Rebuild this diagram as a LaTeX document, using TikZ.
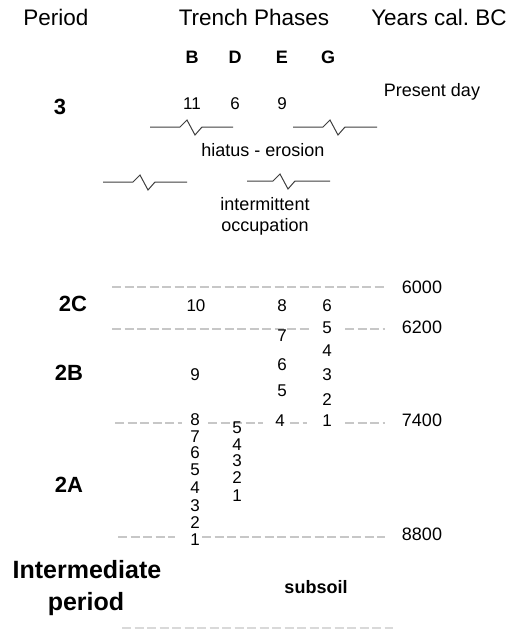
\documentclass[tikz,border=0pt]{standalone}
\usepackage{fontspec}
\setmainfont{Liberation Sans}
\frenchspacing
\begin{document}
\begin{tikzpicture}[x=1pt,y=-1pt,
  lbl/.style={inner sep=0pt, text height=0.72em, text depth=0pt, font=\fontsize{18}{18}\selectfont},
  hdr/.style={lbl, font=\fontsize{22.5}{22.5}\selectfont},
  per/.style={lbl, font=\fontsize{22}{22}\selectfont\bfseries},
  bigper/.style={lbl, font=\fontsize{25}{25}\selectfont\bfseries},
  trench/.style={lbl, font=\fontsize{18}{18}\selectfont\bfseries},
  num/.style={lbl, font=\fontsize{17}{17}\selectfont},
  gridline/.style={draw=black!22, line width=2.7pt, dash pattern=on 9pt off 3.5pt},
  baseline/.style={draw=black!15, line width=2pt, dash pattern=on 9pt off 3.5pt},
  zig/.style={draw=black!75, line width=1pt}]
\fill[white] (0,0) rectangle (513,630);
\useasboundingbox (0,0) rectangle (513,630);

% headers
\node[hdr] (period) at (56,22) {Period};
\node[hdr] (trench) at (254,22) {Trench Phases};
\node[hdr] (years) at (439,22) {Years cal. BC};
\node[trench] (tB) at (192,60) {B};
\node[trench] (tD) at (235,60) {D};
\node[trench] (tE) at (282,60) {E};
\node[trench] (tG) at (328,60) {G};

% period 3
\node[per] (p3) at (60,111) {3};
\node[num] (b11) at (192,106) {11};
\node[num] (d6) at (235,106) {6};
\node[num] (e9) at (282,106) {9};
\node[lbl] (present) at (432,93) {Present day};

% zigzags
\draw[zig] (150,127) -- (180,127) -- (187,120) -- (195,135) -- (202,127) -- (233,127);
\draw[zig] (293,127) -- (323,127) -- (330,120) -- (338,135) -- (345,127) -- (377,127);
\node[lbl] (hiatus) at (263,153) {hiatus - erosion};
\draw[zig] (103,182) -- (133,182) -- (140,175) -- (148,190) -- (155,182) -- (187,182);
\draw[zig] (247,181) -- (273,181) -- (280,174) -- (288,189) -- (295,181) -- (330,181);
\node[lbl] (interm) at (265,207) {intermittent};
\node[lbl] (occup) at (265,228) {occupation};

% dashed boundaries
\draw[gridline] (112,287) -- (385,287);
\draw[gridline] (112,329) -- (310,329);
\draw[gridline] (345,329) -- (385,329);
\draw[gridline] (115,423) -- (182,423);
\draw[gridline] (208,423) -- (263,423);
\draw[gridline] (290,423) -- (307,423);
\draw[gridline] (345,423) -- (385,423);
\draw[gridline] (118,537) -- (175,537);
\draw[gridline] (202,537) -- (385,537);
\draw[baseline] (122,628) -- (393,628);

% years
\node[lbl] (y6000) at (422,290) {6000};
\node[lbl] (y6200) at (422,330) {6200};
\node[lbl] (y7400) at (422,423) {7400};
\node[lbl] (y8800) at (422,537) {8800};

% period labels
\node[per] (p2C) at (73,308) {2C};
\node[per] (p2B) at (69,377) {2B};
\node[per] (p2A) at (69,489) {2A};
\node[bigper] (pint) at (87,575) {Intermediate};
\node[bigper] (pintb) at (86,607) {period};
\node[trench] (subsoil) at (316,590) {subsoil};

% 2C / 2B numbers
\node[num] (B10) at (196,308) {10};
\node[num] (E8) at (282,308) {8};
\node[num] (G6) at (327,308) {6};
\node[num] (G5) at (327,330) {5};
\node[num] (E7) at (282,338) {7};
\node[num] (G4) at (327,353) {4};
\node[num] (E6) at (282,367) {6};
\node[num] (B9) at (195,377) {9};
\node[num] (G3) at (327,377) {3};
\node[num] (E5) at (282,393) {5};
\node[num] (G2) at (327,402) {2};
\node[num] (B8) at (195,422) {8};
\node[num] (E4) at (280,423) {4};
\node[num] (G1) at (327,423) {1};

% 2A numbers, trench B
\node[num] (B7) at (195,438.5) {7};
\node[num] (B6) at (195,455) {6};
\node[num] (B5) at (195,472) {5};
\node[num] (B4) at (195,490) {4};
\node[num] (B3) at (195,508) {3};
\node[num] (B2) at (195,525) {2};
\node[num] (B1) at (195,542) {1};
% trench D
\node[num] (D5) at (237,430) {5};
\node[num] (D4) at (237,447) {4};
\node[num] (D3) at (237,463) {3};
\node[num] (D2) at (237,480) {2};
\node[num] (D1) at (237,498) {1};
\end{tikzpicture}
\end{document}
